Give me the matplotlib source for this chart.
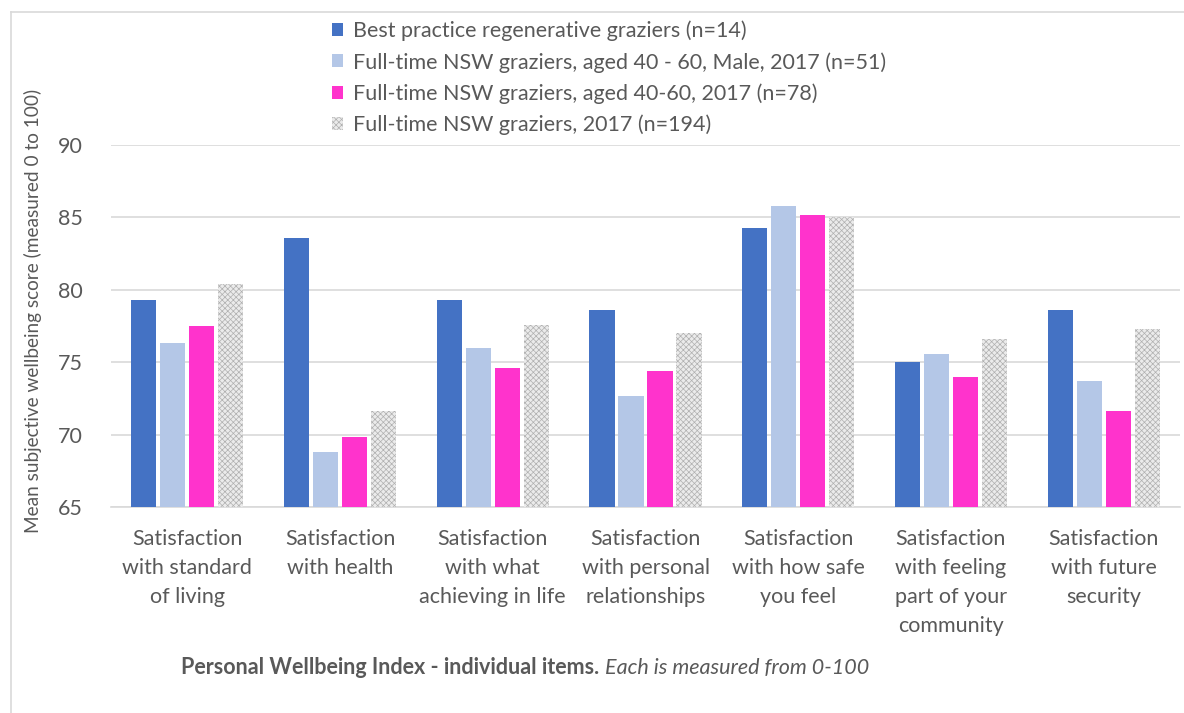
import matplotlib
matplotlib.use("Agg")
import matplotlib.pyplot as plt
import numpy as np
from matplotlib.lines import Line2D

plt.rcParams['font.family'] = ['Lato', 'DejaVu Sans']
plt.rcParams['hatch.linewidth'] = 0.5

categories = [
    "Satisfaction\nwith standard\nof living",
    "Satisfaction\nwith health",
    "Satisfaction\nwith what\nachieving in life",
    "Satisfaction\nwith personal\nrelationships",
    "Satisfaction\nwith how safe\nyou feel",
    "Satisfaction\nwith feeling\npart of your\ncommunity",
    "Satisfaction\nwith future\nsecurity",
]
series_names = [
    "Best practice regenerative graziers (n=14)",
    "Full-time NSW graziers, aged 40 - 60, Male, 2017 (n=51)",
    "Full-time NSW graziers, aged 40-60, 2017 (n=78)",
    "Full-time NSW graziers, 2017 (n=194)",
]
best_practice = [79.3, 83.6, 79.3, 78.6, 84.3, 75.0, 78.6]
male_40_60 = [76.3, 68.8, 76.0, 72.7, 85.8, 75.6, 73.7]
aged_40_60 = [77.5, 69.8, 74.6, 74.4, 85.2, 74.0, 71.6]
all_graziers = [80.4, 71.6, 77.6, 77.0, 85.0, 76.6, 77.3]
yticks = [65, 70, 75, 80, 85, 90]

series = [best_practice, male_40_60, aged_40_60, all_graziers]
colors = ['#4472C4', '#B4C7E7', '#FF33CC', '#EBEBEB']
hatches = [None, None, None, 'xxxxxx']
edgecols = ['white', 'white', 'white', '#B0B0B0']

text_col = '#595959'
fs = 15.5
fig = plt.figure(figsize=(11.84, 7.13), dpi=100)
ax = fig.add_axes([111/1184, 1-507/713, (1180-111)/1184, (507-145)/713])

x = np.arange(len(categories))
step = 0.19
width = 0.165
for i, (vals, c, h, ec) in enumerate(zip(series, colors, hatches, edgecols)):
    pos = x + (i - 1.5) * step
    if h is None:
        ax.bar(pos, np.array(vals) - 65, bottom=65, width=width, color=c,
               edgecolor='none', label=series_names[i], zorder=3)
    else:
        ax.bar(pos, np.array(vals) - 65, bottom=65, width=width, facecolor=c,
               hatch=h, edgecolor=ec, linewidth=0, label=series_names[i], zorder=3)

ax.set_ylim(65, 90)
ax.set_xlim(-0.5, len(categories) - 0.5)
ax.set_yticks(yticks)
ax.set_yticklabels([str(t) for t in yticks], fontsize=fs, color=text_col)
ax.tick_params(axis='y', length=0, pad=20)
ax.set_xticks(x)
ax.set_xticklabels(categories, fontsize=fs, color=text_col, linespacing=1.55, va='top')
ax.tick_params(axis='x', length=0, pad=16)
ax.grid(axis='y', color='#D9D9D9', linewidth=1.2, zorder=0)
for s in ['top', 'right', 'left']:
    ax.spines[s].set_visible(False)
ax.spines['bottom'].set_color('#D9D9D9')
ax.spines['bottom'].set_linewidth(1.2)

handles, labels = ax.get_legend_handles_labels()
leg = fig.legend(handles, labels, loc='upper left', bbox_to_anchor=(323/1184, 1-12/713),
                 frameon=False, fontsize=fs, handlelength=0.55, handleheight=0.55,
                 handletextpad=0.45, labelspacing=0.5, borderaxespad=0)
for t in leg.get_texts():
    t.set_color(text_col)

fig.text(33/1184, 1-311/713, "Mean subjective wellbeing score (measured 0 to 100)",
         rotation=90, ha='center', va='center', fontsize=13.7, color=text_col)

# x-axis title: bold part + italic part
t1 = fig.text(181/1184, 1-668/713, "Personal Wellbeing Index - individual items.",
              ha='left', va='center', fontsize=fs, fontweight='bold', color=text_col)
fig.canvas.draw()
bb = t1.get_window_extent()
fig.text((bb.x1 + 6)/1184, 1-668/713, "Each is measured from 0-100",
         ha='left', va='center', fontsize=fs, style='italic', color=text_col)

# chart frame lines
fig.add_artist(Line2D([11/1184, 11/1184], [0, 1-12/713], transform=fig.transFigure,
                      color='#D9D9D9', linewidth=1.2))
fig.add_artist(Line2D([11/1184, 1], [1-12/713, 1-12/713], transform=fig.transFigure,
                      color='#D9D9D9', linewidth=1.2))

fig.savefig('out.png', dpi=100)
